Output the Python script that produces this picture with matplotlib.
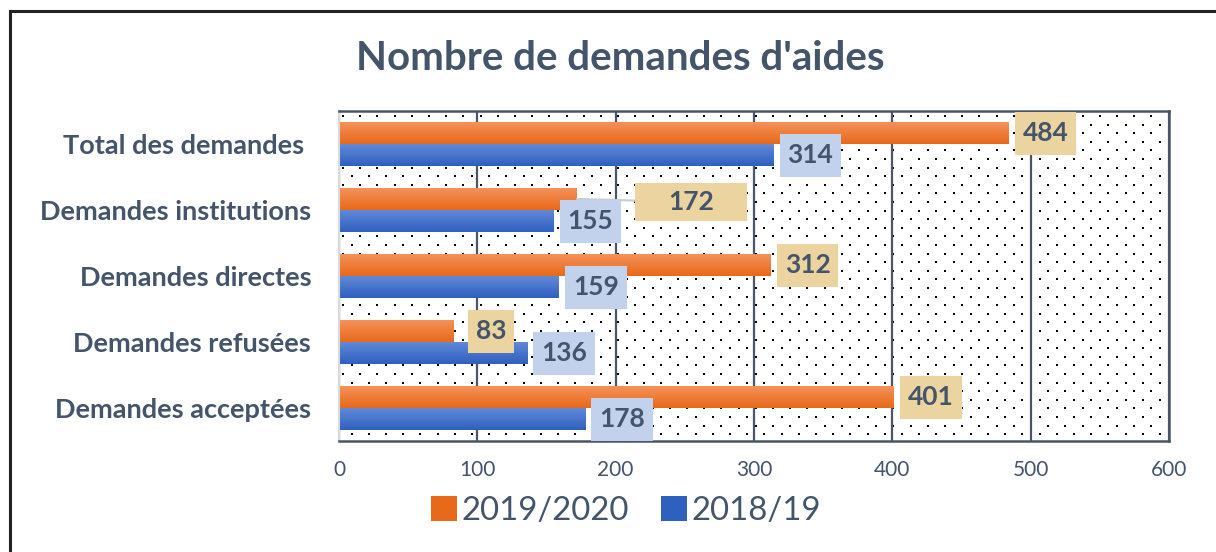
import numpy as np
import matplotlib
matplotlib.use("Agg")
import matplotlib.pyplot as plt
from matplotlib.colors import LinearSegmentedColormap
from matplotlib.lines import Line2D
from matplotlib.patches import Rectangle
from matplotlib.path import Path

# ---- data ----
categories = ["Total des demandes ", "Demandes institutions", "Demandes directes",
              "Demandes refusées", "Demandes acceptées"]
series_names = ["2019/2020", "2018/19"]
values_2019_2020 = [484, 172, 312, 83, 401]
values_2018_19 = [314, 155, 159, 136, 178]
x_ticks = [0, 100, 200, 300, 400, 500, 600]
title = "Nombre de demandes d'aides"

FONT = "Lato"
TXT = "#44546A"
ORANGE_TOP, ORANGE_BOT = "#F4925A", "#E8691A"
BLUE_TOP, BLUE_BOT = "#6189D8", "#2E60BE"

fig = plt.figure(figsize=(12.16, 5.52), dpi=100)
W, H = 1216, 552
ax = fig.add_axes([339 / W, 1 - 441 / H, 830 / W, 330 / H])

# outer border (left + top)
fig.add_artist(Line2D([9.5 / W, 9.5 / W], [0, 1 - 11 / H], transform=fig.transFigure,
                      color="#222222", lw=2.2))
fig.add_artist(Line2D([9.5 / W, 1], [1 - 11 / H, 1 - 11 / H], transform=fig.transFigure,
                      color="#222222", lw=2.2))

n = len(categories)
ypos = np.arange(n)
h = 1 / 3

# dotted background
px_w, px_h = 830, 330
dx, dy = 17.2, 8.6
pts = []
r = 0
yy = 5.0
while yy < px_h:
    off = 4.0 if r % 2 == 0 else 4.0 + dx / 2
    xx = off
    while xx < px_w:
        pts.append((xx / px_w, 1 - yy / px_h))
        xx += dx
    yy += dy
    r += 1
pts = np.array(pts)
ax.scatter(pts[:, 0], pts[:, 1], s=3.6, color="black", marker="s", linewidths=0,
           transform=ax.transAxes, zorder=0.5)

# grid
ax.set_xticks(x_ticks)
ax.xaxis.grid(True, color="#4A5568", lw=1.6, zorder=1)
ax.set_axisbelow(True)

def grad_bars(vals, offs, top, bot):
    cmap = LinearSegmentedColormap.from_list("g", [top, bot])
    bars = ax.barh(ypos + offs, vals, height=h, color=bot, zorder=2)
    g = np.linspace(0, 1, 64).reshape(-1, 1)
    for b in bars:
        x0, y0 = b.get_x(), b.get_y()
        w, hh = b.get_width(), b.get_height()
        im = ax.imshow(g, cmap=cmap, extent=(x0, x0 + w, y0 + hh, y0), origin="upper",
                       aspect="auto", zorder=2.1, interpolation="bilinear")
        im.set_clip_path(b)
    return bars

bars_o = grad_bars(values_2019_2020, -h / 2, ORANGE_TOP, ORANGE_BOT)
bars_b = grad_bars(values_2018_19, h / 2, BLUE_TOP, BLUE_BOT)
ax.set_xlim(0, 600)
ax.set_ylim(n - 0.5, -0.5)


def box_style(padx, pady):
    def style(x0, y0, width, height, mutation_size):
        x0 -= padx * mutation_size
        y0 -= pady * mutation_size
        x1 = x0 + width + 2 * padx * mutation_size
        y1 = y0 + height + 2 * pady * mutation_size
        return Path([(x0, y0), (x1, y0), (x1, y1), (x0, y1), (x0, y0)], closed=True)
    return style

# data labels
LABEL_O = "#EBD4A0"
LABEL_B = "#C2D1EC"
LFS = 19
for i, v in enumerate(values_2019_2020):
    if i == 1:
        ax.annotate(str(v), xy=(v, ypos[i] - h / 2), xytext=(114, -3),
                    textcoords="offset pixels", ha="center", va="center",
                    fontsize=LFS, fontweight="bold", color=TXT, family=FONT,
                    bbox=dict(boxstyle=box_style(1.25, 0.28), fc=LABEL_O, ec="none"),
                    arrowprops=dict(arrowstyle="-", color="#C8CCD4", lw=1.5,
                                    shrinkA=0, shrinkB=0),
                    zorder=4)
    else:
        ax.annotate(str(v), xy=(v, ypos[i] - h / 2), xytext=(37, 0),
                    textcoords="offset pixels", ha="center", va="center",
                    fontsize=LFS, fontweight="bold", color=TXT, family=FONT,
                    bbox=dict(boxstyle=box_style(0.3, 0.36), fc=LABEL_O, ec="none"),
                    zorder=4)
for i, v in enumerate(values_2018_19):
    ax.annotate(str(v), xy=(v, ypos[i] + h / 2), xytext=(37, 0),
                textcoords="offset pixels", ha="center", va="center",
                fontsize=LFS, fontweight="bold", color=TXT, family=FONT,
                bbox=dict(boxstyle=box_style(0.3, 0.36), fc=LABEL_B, ec="none"),
                zorder=4)

# axes styling
ax.set_yticks(ypos)
ax.set_yticklabels(categories, fontsize=19.5, fontweight="bold", color=TXT, family=FONT)
ax.set_xticklabels([str(t) for t in x_ticks], fontsize=15, color=TXT, family=FONT)
ax.tick_params(axis="both", length=0)
ax.tick_params(axis="y", pad=20)
ax.tick_params(axis="x", pad=14)
for s in ["top", "right", "bottom"]:
    ax.spines[s].set_color("#4A5568")
    ax.spines[s].set_linewidth(1.8)
ax.spines["left"].set_color("#D9D9D9")
ax.spines["left"].set_linewidth(1.5)

# title
fig.text(620 / W, 1 - 59 / H, title, ha="center", va="center", fontsize=29,
         fontweight="bold", color=TXT, family=FONT)

# legend
handles = [Rectangle((0, 0), 1, 1, fc=ORANGE_BOT, ec="none"),
           Rectangle((0, 0), 1, 1, fc=BLUE_BOT, ec="none")]
fig.legend(handles, series_names, loc="center", bbox_to_anchor=(626 / W, 1 - 511 / H),
           ncol=2, frameon=False, prop=dict(family=FONT, size=23.7),
           labelcolor=TXT, handlelength=0.78, handleheight=0.78,
           handletextpad=0.12, columnspacing=1.0)

fig.savefig("out.png", dpi=100)
